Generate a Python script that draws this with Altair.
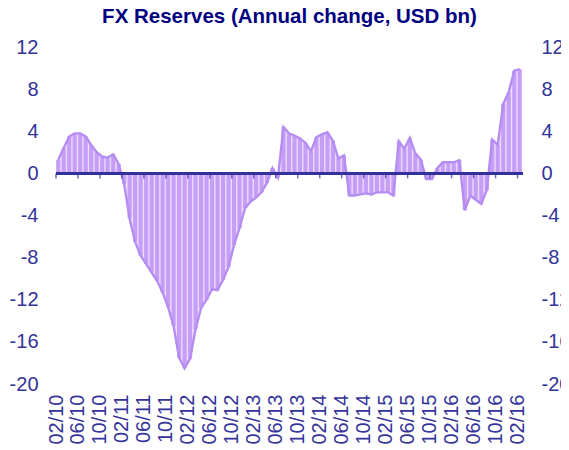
import altair as alt
import pandas as pd

# monthly annual change of FX reserves, USD bn (02/2010 .. 02/2017)
months = [d.strftime("%m/%y") for d in pd.date_range("2010-02-01", periods=85, freq="MS")]
values = [
    1.3, 2.4, 3.5, 3.8, 3.8, 3.5, 2.7, 2.0, 1.6, 1.5, 1.8, 0.9,
    -1.0, -4.3, -6.5, -7.8, -8.6, -9.4, -10.2, -11.3, -12.7, -14.5, -17.5, -18.5,
    -17.6, -14.8, -12.8, -12.0, -11.0, -11.1, -10.1, -8.9, -6.8, -5.2, -3.3, -2.7,
    -2.3, -1.8, -0.9, 0.5, -0.4, 4.4, 3.8, 3.6, 3.3, 2.9, 2.1, 3.45,
    3.7, 3.9, 3.1, 1.4, 1.7, -2.1, -2.1, -2.0, -1.9, -2.0, -1.8, -1.8,
    -1.8, -2.1, 3.05, 2.35, 3.35, 1.9, 1.3, -0.55, -0.55, 0.5, 1.05, 1.05,
    1.05, 1.25, -3.5, -2.1, -2.5, -2.9, -1.6, 3.2, 2.7, 6.6, 7.7, 9.75,
    9.9,
]
tick_labels = ["02/10", "06/10", "10/10", "02/11", "06/11", "10/11", "02/12", "06/12",
               "10/12", "02/13", "06/13", "10/13", "02/14", "06/14", "10/14", "02/15",
               "06/15", "10/15", "02/16", "06/16", "10/16", "02/16"]
y_ticks = [-20, -16, -12, -8, -4, 0, 4, 8, 12]

BAR = "#c79ef7"
GAP = "#eadcfc"
LINE = "#b58df2"
AXIS = "#333399"
TITLE = "#000080"
FONT = "Liberation Sans"
LBL = 20

df = pd.DataFrame({"i": list(range(len(values))), "month": months, "value": values})
tick_df = pd.DataFrame({"t": [4 * k for k in range(len(tick_labels))]})

xscale = alt.Scale(domain=[0, len(values)], nice=False, zero=False)
yscale = alt.Scale(domain=[-20, 12], nice=False, zero=False)

label_arr = "[" + ",".join("'" + s + "'" for s in tick_labels) + "]"
ylab = "datum.value < 0 ? '-' + abs(datum.value) : '' + datum.value"

base = alt.Chart(df).transform_calculate(
    xc="datum.i + 0.4", x0="datum.i + 0.03", x1="datum.i + 0.78"
)

area = base.mark_area(color=GAP, opacity=1).encode(
    x=alt.X("xc:Q", scale=xscale, axis=None),
    y=alt.Y("value:Q", scale=yscale, axis=None),
    y2=alt.datum(0),
)

bars = base.mark_rect(color=BAR).encode(
    x=alt.X("x0:Q", scale=xscale, axis=alt.Axis(
        values=tick_df["t"].tolist(), labelExpr=label_arr + "[round(datum.value/4)]",
        labelAngle=-90, labelAlign="right", labelBaseline="middle",
        labelFontSize=LBL, labelFont=FONT, labelColor=AXIS, labelPadding=10,
        labelOverlap=False, labelFlush=False, labelBound=False,
        ticks=False, domain=False, grid=False, title=None, orient="bottom")),
    x2="x1:Q",
    y=alt.Y("value:Q", scale=yscale, axis=alt.Axis(
        values=y_ticks, labelExpr=ylab, labelFontSize=LBL, labelFont=FONT,
        labelColor=AXIS, labelPadding=18, ticks=False, domain=False, grid=False,
        title=None, orient="left")),
    y2=alt.datum(0),
)

line = base.mark_line(color=LINE, strokeWidth=2.4).encode(
    x=alt.X("xc:Q", scale=xscale, axis=None),
    y=alt.Y("value:Q", scale=yscale, axis=alt.Axis(
        values=y_ticks, labelExpr=ylab, labelFontSize=LBL, labelFont=FONT,
        labelColor=AXIS, labelPadding=18, ticks=False, domain=False, grid=False,
        title=None, orient="right")),
)

zero = alt.Chart(df).mark_rule(color=AXIS, strokeWidth=1.5).encode(
    y=alt.Y(datum=0, scale=yscale, axis=None)
)

ticks = alt.Chart(tick_df).mark_tick(orient="vertical", size=5, thickness=1.5,
                                     yOffset=2.5, color=AXIS).encode(
    x=alt.X("t:Q", scale=xscale, axis=None),
    y=alt.Y(datum=0, scale=yscale, axis=None),
)

chart = alt.layer(area, bars, line, zero, ticks).resolve_axis(
    x="independent", y="independent"
).properties(
    width=467, height=337,
    padding={"left": 48, "top": 39, "right": 38, "bottom": 64},
    autosize=alt.AutoSizeParams(type="none"),
    title=alt.Title("FX Reserves (Annual change, USD bn)", font=FONT, fontSize=20.5,
                    fontWeight="bold", color=TITLE, anchor="middle", frame="group",
                    offset=10),
).configure_view(stroke=None)

chart.save("out.html", embed_options={"renderer": "svg", "actions": False})
